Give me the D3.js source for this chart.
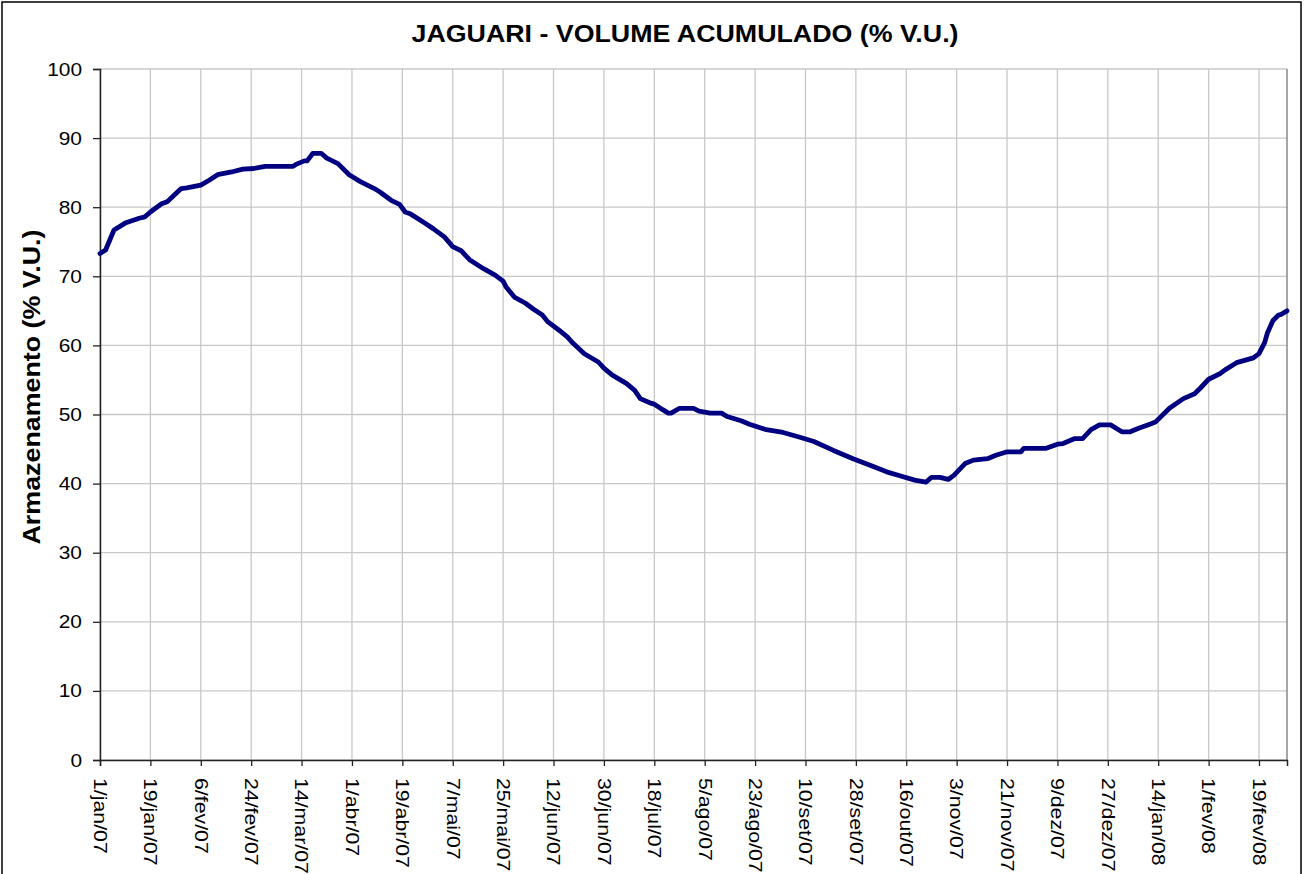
<!DOCTYPE html>
<html>
<head>
<meta charset="utf-8">
<script src="https://cdn.jsdelivr.net/npm/d3@7"></script>
<style>
  body { margin: 0; background: #fff; }
  text { font-family: "Liberation Sans", Arial, sans-serif; }
</style>
</head>
<body>
<div id="viz-container"></div>
<script>
// days since 1/jan/07 and stored volume (% V.U.)
let dias = [0, 2, 5, 9, 14, 16, 18, 22, 24, 29, 31, 36, 39, 42, 47, 51, 55, 59, 69, 70,
  73, 74, 76, 79, 81, 85, 89, 93, 98, 100, 104, 107, 109, 111, 116, 119, 123, 126, 129, 132,
  137, 141, 144, 145, 148, 152, 155, 158, 160, 164, 167, 169, 173, 178, 180, 183, 188, 191, 193, 197,
  198, 201, 203, 204, 207, 212, 214, 218, 222, 224, 229, 232, 238, 244, 250, 255, 262, 269, 276, 281,
  286, 291, 295, 297, 300, 303, 305, 309, 312, 317, 320, 324, 329, 330, 338, 342, 344, 348, 351, 354,
  357, 361, 365, 368, 371, 375, 377, 382, 387, 391, 393, 396, 400, 402, 406, 412, 414, 416, 417, 419,
  421, 422, 424];
let volume = [73.3, 73.8, 76.7, 77.7, 78.4, 78.6, 79.3, 80.5, 80.8, 82.7, 82.8, 83.2, 83.9, 84.7, 85.1, 85.5, 85.6, 85.9, 85.9, 86.2,
  86.7, 86.7, 87.8, 87.8, 87.1, 86.3, 84.7, 83.7, 82.7, 82.2, 81.0, 80.4, 79.3, 79.0, 77.7, 76.9, 75.7, 74.3, 73.7, 72.4,
  71.1, 70.2, 69.3, 68.5, 67.0, 66.1, 65.2, 64.4, 63.4, 62.2, 61.2, 60.3, 58.8, 57.6, 56.7, 55.7, 54.5, 53.5, 52.3, 51.6,
  51.5, 50.7, 50.2, 50.2, 50.9, 50.9, 50.5, 50.2, 50.2, 49.7, 49.1, 48.6, 47.8, 47.4, 46.7, 46.1, 44.8, 43.6, 42.5, 41.7,
  41.1, 40.5, 40.2, 40.9, 40.9, 40.6, 41.2, 42.9, 43.4, 43.6, 44.1, 44.6, 44.6, 45.1, 45.1, 45.7, 45.8, 46.5, 46.5, 47.8,
  48.5, 48.5, 47.5, 47.5, 48.0, 48.6, 48.9, 50.9, 52.3, 53.0, 53.8, 55.1, 55.9, 56.5, 57.5, 58.2, 58.8, 60.4, 61.8, 63.6,
  64.4, 64.5, 65.0];

let yTicks = [0, 10, 20, 30, 40, 50, 60, 70, 80, 90, 100];
let meses = ["jan", "fev", "mar", "abr", "mai", "jun", "jul", "ago", "set", "out", "nov", "dez"];
let inicio = new Date(2007, 0, 1);
let fim = new Date(2008, 1, 29);
let passoDias = 18;

let data = dias.map((d, i) => ({ date: d3.timeDay.offset(inicio, d), value: volume[i] }));

let xTicks = [];
for (let t = inicio; t <= fim; t = d3.timeDay.offset(t, passoDias)) xTicks.push(t);

function fmtData(d) {
  return d.getDate() + "/" + meses[d.getMonth()] + "/" + String(d.getFullYear()).slice(2);
}

// the original font renders a bit wider than Arial
function alargar(sel, k) {
  sel.each(function() {
    let w = this.getComputedTextLength();
    d3.select(this)
      .attr("textLength", w * k)
      .attr("lengthAdjust", "spacingAndGlyphs");
  });
}

let width = 1310, height = 874;
let margin = { left: 100, right: 23, top: 69, bottom: 114 };

let svg = d3.select("#viz-container")
  .append("svg")
    .attr("width", width)
    .attr("height", height);

// outer frame
svg.append("rect")
  .attr("x", 2).attr("y", 2)
  .attr("width", 1299).attr("height", 900)
  .attr("fill", "none")
  .attr("stroke", "#000")
  .attr("stroke-width", 1.5);

let x = d3.scaleTime().domain([inicio, fim]).range([margin.left, width - margin.right]);
let y = d3.scaleLinear().domain([0, 100]).range([height - margin.bottom, margin.top]);

// grid
svg.append("g")
  .selectAll("line.h")
  .data(yTicks)
  .enter().append("line")
    .attr("x1", x.range()[0]).attr("x2", x.range()[1])
    .attr("y1", d => y(d)).attr("y2", d => y(d))
    .attr("stroke", "#c8c8c8").attr("stroke-width", 1.3);

svg.append("g")
  .selectAll("line.v")
  .data(xTicks)
  .enter().append("line")
    .attr("x1", d => x(d)).attr("x2", d => x(d))
    .attr("y1", y(0)).attr("y2", y(100))
    .attr("stroke", "#c8c8c8").attr("stroke-width", 1.3);

// right border of plot
svg.append("line")
  .attr("x1", x.range()[1]).attr("x2", x.range()[1])
  .attr("y1", y(0)).attr("y2", y(100))
  .attr("stroke", "#888").attr("stroke-width", 1.5);

// axes
let yAxis = svg.append("g")
  .attr("transform", "translate(" + margin.left + ",0)")
  .call(d3.axisLeft(y).tickValues(yTicks).tickSize(7).tickPadding(11));
yAxis.select(".domain").attr("stroke", "#222").attr("stroke-width", 1.5);
yAxis.selectAll(".tick line").attr("stroke", "#222").attr("stroke-width", 1.3);
yAxis.selectAll("text")
  .attr("font-size", 19)
  .attr("fill", "#000")
  .attr("font-family", "Liberation Sans, Arial, sans-serif")
  .call(alargar, 1.1);

let xAxis = svg.append("g")
  .attr("transform", "translate(0," + y(0) + ")")
  .call(d3.axisBottom(x).tickValues(xTicks).tickFormat(fmtData).tickSize(6));
xAxis.select(".domain").attr("stroke", "#222").attr("stroke-width", 1.5);
xAxis.selectAll(".tick line").attr("stroke", "#222").attr("stroke-width", 1.3);
xAxis.selectAll("text")
  .attr("font-size", 19)
  .attr("fill", "#000")
  .attr("font-family", "Liberation Sans, Arial, sans-serif")
  .attr("text-anchor", "start")
  .attr("dy", "0.35em")
  .attr("transform", "translate(0,18) rotate(90)")
  .attr("x", 0).attr("y", 0)
  .call(alargar, 1.12);

// line
let line = d3.line()
  .x(d => x(d.date))
  .y(d => y(d.value));

svg.append("path")
  .datum(data)
  .attr("d", line)
  .attr("fill", "none")
  .attr("stroke", "#000080")
  .attr("stroke-width", 4.8)
  .attr("stroke-linejoin", "round")
  .attr("stroke-linecap", "round");

// title
svg.append("text")
  .attr("x", 685).attr("y", 42)
  .attr("text-anchor", "middle")
  .attr("font-size", 24)
  .attr("font-weight", "bold")
  .attr("textLength", 547)
  .attr("lengthAdjust", "spacingAndGlyphs")
  .text("JAGUARI - VOLUME ACUMULADO (% V.U.)");

// y title
svg.append("text")
  .attr("transform", "translate(40,387) rotate(-90)")
  .attr("text-anchor", "middle")
  .attr("font-size", 24)
  .attr("font-weight", "bold")
  .attr("textLength", 315)
  .attr("lengthAdjust", "spacingAndGlyphs")
  .text("Armazenamento (% V.U.)");
</script>
</body>
</html>
